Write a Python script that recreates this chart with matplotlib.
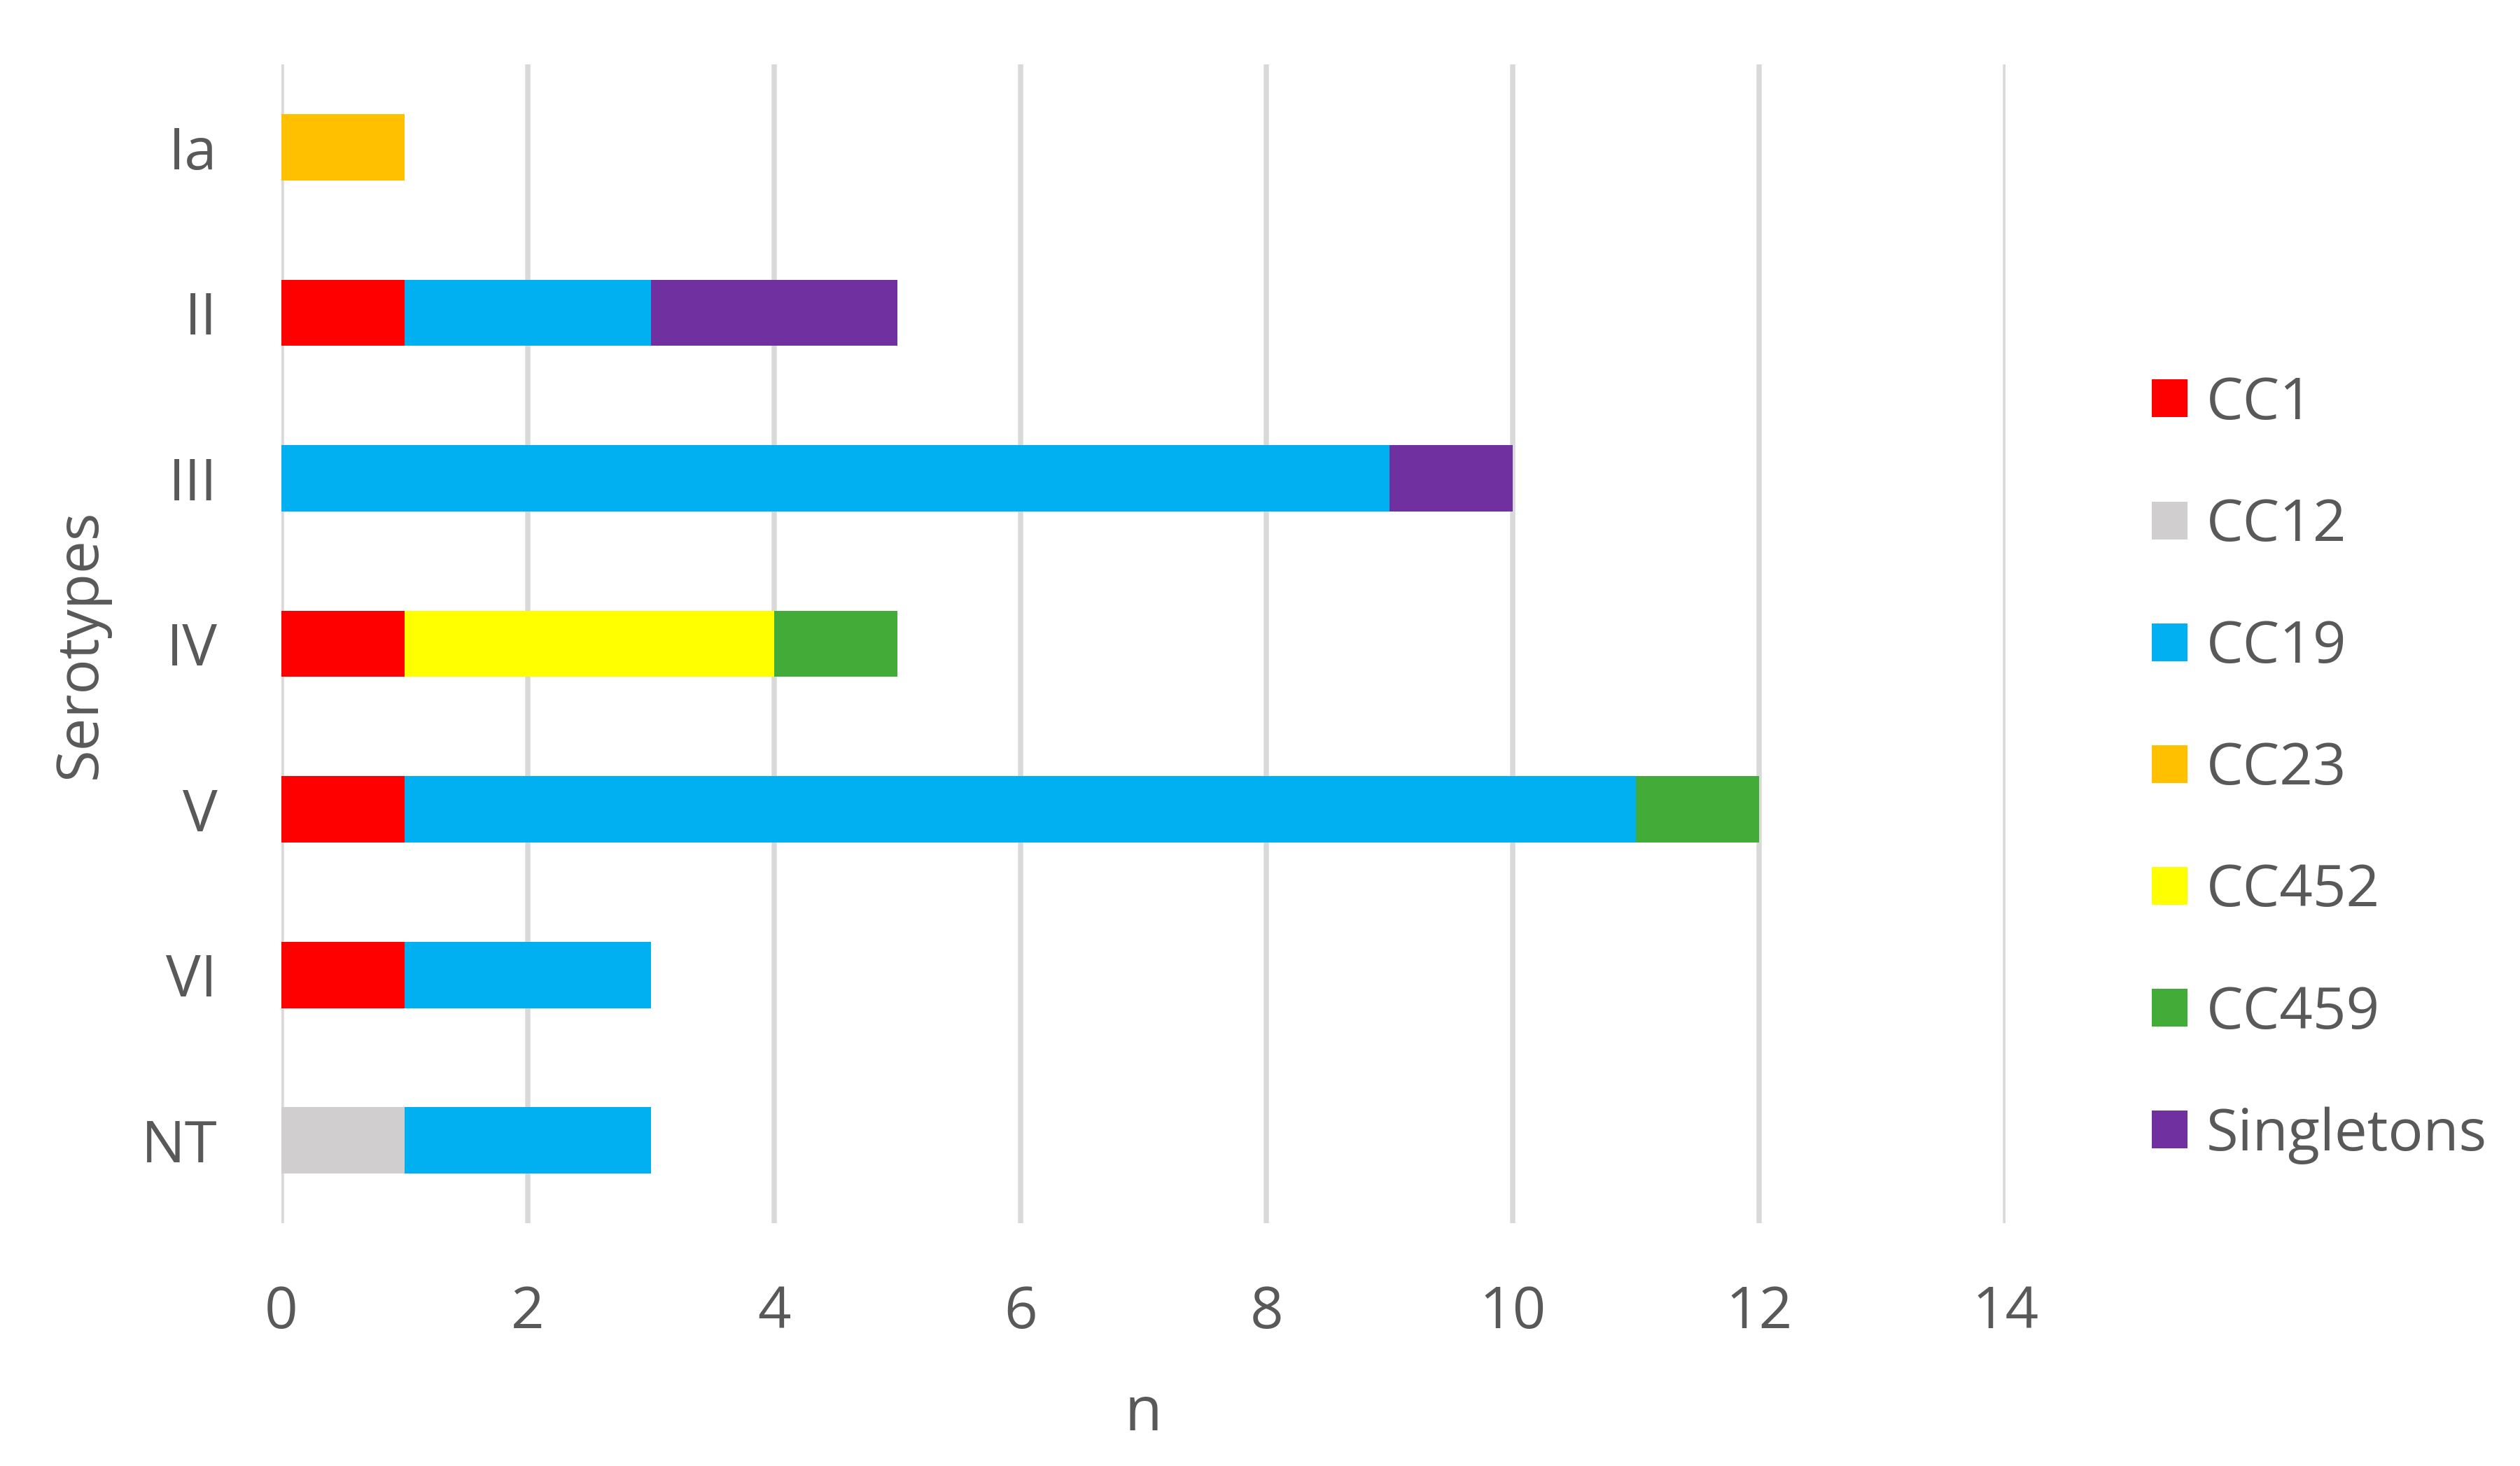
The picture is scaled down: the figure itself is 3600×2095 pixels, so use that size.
import numpy as np
import matplotlib
matplotlib.use('Agg')
import matplotlib.pyplot as plt

plt.rcParams['font.family'] = ['Open Sans', 'DejaVu Sans']

serotypes = ['Ia', 'II', 'III', 'IV', 'V', 'VI', 'NT']
groups = ['CC1', 'CC12', 'CC19', 'CC23', 'CC452', 'CC459', 'Singletons']
colors = ['#FF0000', '#D0CECE', '#00B0F0', '#FFC000', '#FFFF00', '#43AC38', '#7030A0']

# counts per group, in serotype order
cc1 = [0, 1, 0, 1, 1, 1, 0]
cc12 = [0, 0, 0, 0, 0, 0, 1]
cc19 = [0, 2, 9, 0, 10, 2, 2]
cc23 = [1, 0, 0, 0, 0, 0, 0]
cc452 = [0, 0, 0, 3, 0, 0, 0]
cc459 = [0, 0, 0, 1, 1, 0, 0]
singletons = [0, 2, 1, 0, 0, 0, 0]
counts = [cc1, cc12, cc19, cc23, cc452, cc459, singletons]

text_color = '#595959'
fs = 20

fig = plt.figure(figsize=(12, 2095 / 300), dpi=300)
ax = fig.add_axes([0.1117, 0.1656, 0.6841, 0.7905])

y = np.arange(len(serotypes))
left = np.zeros(len(serotypes))
for name, vals, col in zip(groups, counts, colors):
    vals = np.array(vals, dtype=float)
    ax.barh(y, vals, left=left, height=0.4, color=col, label=name,
            zorder=3, linewidth=0)
    left += vals

ax.set_xlim(0, 14)
ax.set_ylim(len(serotypes) - 0.5, -0.5)
ax.set_xticks(np.arange(0, 15, 2))
ax.set_yticks(y)
ax.set_yticklabels(serotypes)
ax.tick_params(axis='both', length=0, labelsize=fs, labelcolor=text_color)
ax.tick_params(axis='x', pad=21)
ax.tick_params(axis='y', pad=22)
ax.grid(axis='x', color='#D9D9D9', linewidth=1.8, zorder=0)
for s in ax.spines.values():
    s.set_visible(False)

ax.set_xlabel('n', fontsize=fs + 1, color=text_color)
ax.xaxis.set_label_coords(0.5, -0.165)
ax.xaxis.label.set_va('center')
ax.set_ylabel('Serotypes', fontsize=fs, color=text_color)
ax.yaxis.set_label_coords(-0.1165, 0.5)
ax.yaxis.label.set_va('center')

leg = fig.legend(loc='center left', bbox_to_anchor=(3032 / 3600, 1 - 1100 / 2095),
                 frameon=False, fontsize=fs, labelcolor=text_color,
                 handlelength=0.62, handleheight=0.62, handletextpad=0.32,
                 labelspacing=1.10, borderpad=0)

fig.savefig('out.png', dpi=300, facecolor='white')
